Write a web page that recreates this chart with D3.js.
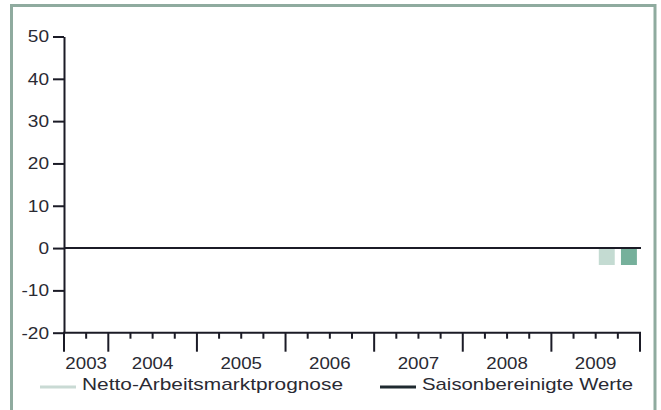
<!DOCTYPE html>
<html>
<head>
<meta charset="utf-8">
<script src="https://d3js.org/d3.v7.min.js"></script>
<style>
body { margin: 0; background: #ffffff; }
svg text { font-family: "Liberation Sans", Arial, sans-serif; fill: #2a2a33; }
</style>
</head>
<body>
<script>
// quarters shown on the time axis (Q3 2003 .. Q4 2009)
var quarters = [];
["2003","2004","2005","2006","2007","2008","2009"].forEach(function(yr) {
  [1,2,3,4].forEach(function(q) {
    if (yr == "2003" && q < 3) return;
    quarters.push(yr + "-Q" + q);
  });
});
var years = ["2003","2004","2005","2006","2007","2008","2009"];

// bars (only the last two quarters have values)
var barQuarters = ["2009-Q3", "2009-Q4"];
var barValues = [-4, -4];
var barSeries = ["Netto-Arbeitsmarktprognose", "Saisonbereinigte Werte"];

var yTicks = [-20, -10, 0, 10, 20, 30, 40, 50];

var legendItems = ["Netto-Arbeitsmarktprognose", "Saisonbereinigte Werte"];
var colors = {
  "Netto-Arbeitsmarktprognose": "#c4dbd2",
  "Saisonbereinigte Werte": "#76b09b"
};
var legendColors = {
  "Netto-Arbeitsmarktprognose": "#c9dad4",
  "Saisonbereinigte Werte": "#1f2a30"
};

var W = 661, H = 410;
var plotLeft = 64, plotRight = 640, plotTop = 36.5, plotBottom = 332.7;
var ink = "#1b1b26";

// widen the glyphs a little, the original face is broader than Arial
function stretch(sel, k) {
  sel.each(function() {
    var w = this.getComputedTextLength();
    d3.select(this).attr("textLength", w * k).attr("lengthAdjust", "spacingAndGlyphs");
  });
}

var svg = d3.select("body").append("svg")
  .attr("width", W).attr("height", H);

// frame
svg.append("rect")
  .attr("x", 11.5).attr("y", 5.5)
  .attr("width", 643.5).attr("height", 420)
  .attr("fill", "none")
  .attr("stroke", "#8fab9f")
  .attr("stroke-width", 3);

var y = d3.scaleLinear().domain([-20, 50]).range([plotBottom, plotTop]);
var xq = d3.scaleLinear().domain([0, quarters.length]).range([plotLeft, plotRight]);
var xb = d3.scaleBand().domain(quarters).range([plotLeft, plotRight])
  .paddingInner(0.28).paddingOuter(0.14);

// y axis
var yAxis = svg.append("g")
  .attr("transform", "translate(" + plotLeft + ",0)")
  .call(d3.axisLeft(y).tickValues(yTicks).tickFormat(function(d) { return String(d); })
    .tickSize(11).tickPadding(4).tickSizeOuter(0));
yAxis.select(".domain").attr("stroke", ink).attr("stroke-width", 2);
yAxis.selectAll(".tick line").attr("stroke", ink).attr("stroke-width", 2);
yAxis.selectAll(".tick text")
  .style("font-size", "17px")
  .attr("fill", "#2a2a33")
  .attr("font-family", null)
  .call(stretch, 1.12);

// bars
svg.selectAll(".bar")
  .data(barQuarters)
  .enter().append("rect")
  .attr("class", "bar")
  .attr("x", function(d) { return xb(d); })
  .attr("width", xb.bandwidth())
  .attr("y", function(d, i) { return y(Math.max(0, barValues[i])); })
  .attr("height", function(d, i) { return Math.abs(y(barValues[i]) - y(0)); })
  .attr("fill", function(d, i) { return colors[barSeries[i]]; });

// zero line
svg.append("line")
  .attr("x1", plotLeft).attr("x2", plotRight + 1)
  .attr("y1", y(0)).attr("y2", y(0))
  .attr("stroke", ink).attr("stroke-width", 2);

// x axis: quarter ticks and longer year ticks
svg.append("line")
  .attr("x1", plotLeft - 1).attr("x2", plotRight + 1)
  .attr("y1", plotBottom).attr("y2", plotBottom)
  .attr("stroke", ink).attr("stroke-width", 2);

var yearStart = function(i) { return i == 0 ? 0 : 2 + 4 * (i - 1); };
var yearEnd = function(i) { return 2 + 4 * i; };

d3.range(quarters.length + 1).forEach(function(q) {
  var isYear = q == 0 || (q - 2) % 4 == 0;
  svg.append("line")
    .attr("x1", xq(q)).attr("x2", xq(q))
    .attr("y1", plotBottom).attr("y2", plotBottom + (isYear ? 19 : 6))
    .attr("stroke", ink).attr("stroke-width", 2);
});

svg.selectAll(".year")
  .data(years)
  .enter().append("text")
  .attr("class", "year")
  .attr("x", function(d, i) { return (xq(yearStart(i)) + xq(yearEnd(i))) / 2; })
  .attr("y", 368.5)
  .attr("text-anchor", "middle")
  .style("font-size", "17px")
  .text(function(d) { return d; })
  .call(stretch, 1.1);

// legend
var legendX = [40, 380];
var legendTextWidth = [261, 211];
var legend = svg.selectAll(".legend")
  .data(legendItems)
  .enter().append("g")
  .attr("class", "legend")
  .attr("transform", function(d, i) { return "translate(" + legendX[i] + ",387)"; });
legend.append("line")
  .attr("x1", 0).attr("x2", 36)
  .attr("stroke", function(d) { return legendColors[d]; })
  .attr("stroke-width", 3);
legend.append("text")
  .attr("x", 42).attr("y", 2.5)
  .style("font-size", "17px")
  .attr("textLength", function(d, i) { return legendTextWidth[i]; })
  .attr("lengthAdjust", "spacingAndGlyphs")
  .text(function(d) { return d; });
</script>
</body>
</html>
